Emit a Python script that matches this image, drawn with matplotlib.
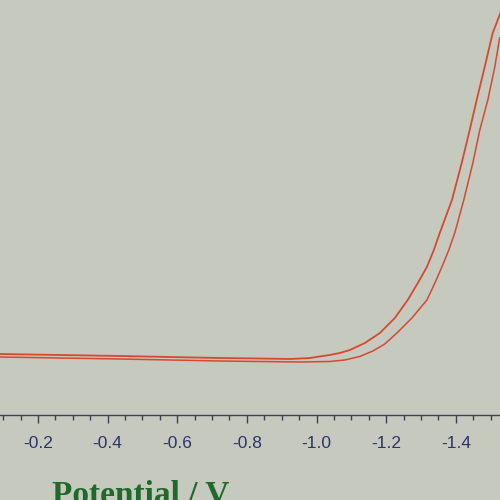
import numpy as np
import matplotlib.pyplot as plt
from matplotlib.ticker import MultipleLocator

# potential (V) and current (uA), two branches of the CV
pot_fwd = [-0.091, -0.263, -0.435, -0.579, -0.723, -0.837, -0.924, -0.981, -1.038, -1.067,
           -1.096, -1.139, -1.182, -1.225, -1.262, -1.291, -1.317, -1.337, -1.354, -1.389,
           -1.417, -1.440, -1.460, -1.483, -1.506, -1.526, -1.541]
cur_fwd = [0.3, 0.2, 0.1, 0.0, -0.1, -0.15, -0.2, -0.1, 0.2, 0.4,
           0.7, 1.4, 2.4, 3.9, 5.7, 7.4, 9.0, 10.7, 12.4, 15.7,
           19.4, 22.7, 25.7, 29.0, 32.4, 34.2, 35.7]

pot_rev = [-0.091, -0.263, -0.435, -0.579, -0.723, -0.837, -0.952, -1.038, -1.081, -1.124,
           -1.162, -1.196, -1.231, -1.274, -1.317, -1.340, -1.360, -1.380, -1.397, -1.423,
           -1.449, -1.469, -1.492, -1.512, -1.526]
cur_rev = [0.0, -0.1, -0.2, -0.3, -0.4, -0.45, -0.5, -0.45, -0.3, 0.05,
           0.6, 1.3, 2.4, 3.9, 5.7, 7.4, 9.0, 10.7, 12.4, 15.7,
           19.4, 22.7, 25.7, 29.0, 31.9]

xticks = [-0.2, -0.4, -0.6, -0.8, -1.0, -1.2, -1.4]

bg = '#c6c9be'
plt.rcParams['axes.unicode_minus'] = False

fig = plt.figure(figsize=(5, 5), dpi=100)
fig.patch.set_facecolor(bg)
ax = fig.add_axes([0, 0.17, 1, 0.83])
ax.set_facecolor(bg)

ax.plot(pot_fwd, cur_fwd, color='#d8482f', lw=1.3, solid_joinstyle='round')
ax.plot(pot_rev, cur_rev, color='#d8482f', lw=1.1, solid_joinstyle='round')

ax.set_xlim(-0.091, -1.527)
ax.set_ylim(-5.8, 35.7)

for s in ['top', 'left', 'right']:
    ax.spines[s].set_visible(False)
ax.spines['bottom'].set_color('#3b4052')
ax.spines['bottom'].set_linewidth(1.0)

ax.set_xticks(xticks)
ax.set_xticklabels([f'{t:.1f}' for t in xticks], fontname='Liberation Sans')
ax.xaxis.set_minor_locator(MultipleLocator(0.05))
ax.tick_params(axis='x', which='major', direction='out', length=6, width=1,
               color='#3b4052', labelcolor='#2c3568', labelsize=12.5, pad=9)
ax.tick_params(axis='x', which='minor', direction='out', length=3.5, width=1,
               color='#3b4052')
ax.set_yticks([])

fig.text(0.104, -0.006, 'Potential / V', color='#1f6a2a', fontsize=24,
         fontweight='bold', fontname='Liberation Serif', va='baseline', ha='left')

fig.savefig('out.png', dpi=100, facecolor=bg)
